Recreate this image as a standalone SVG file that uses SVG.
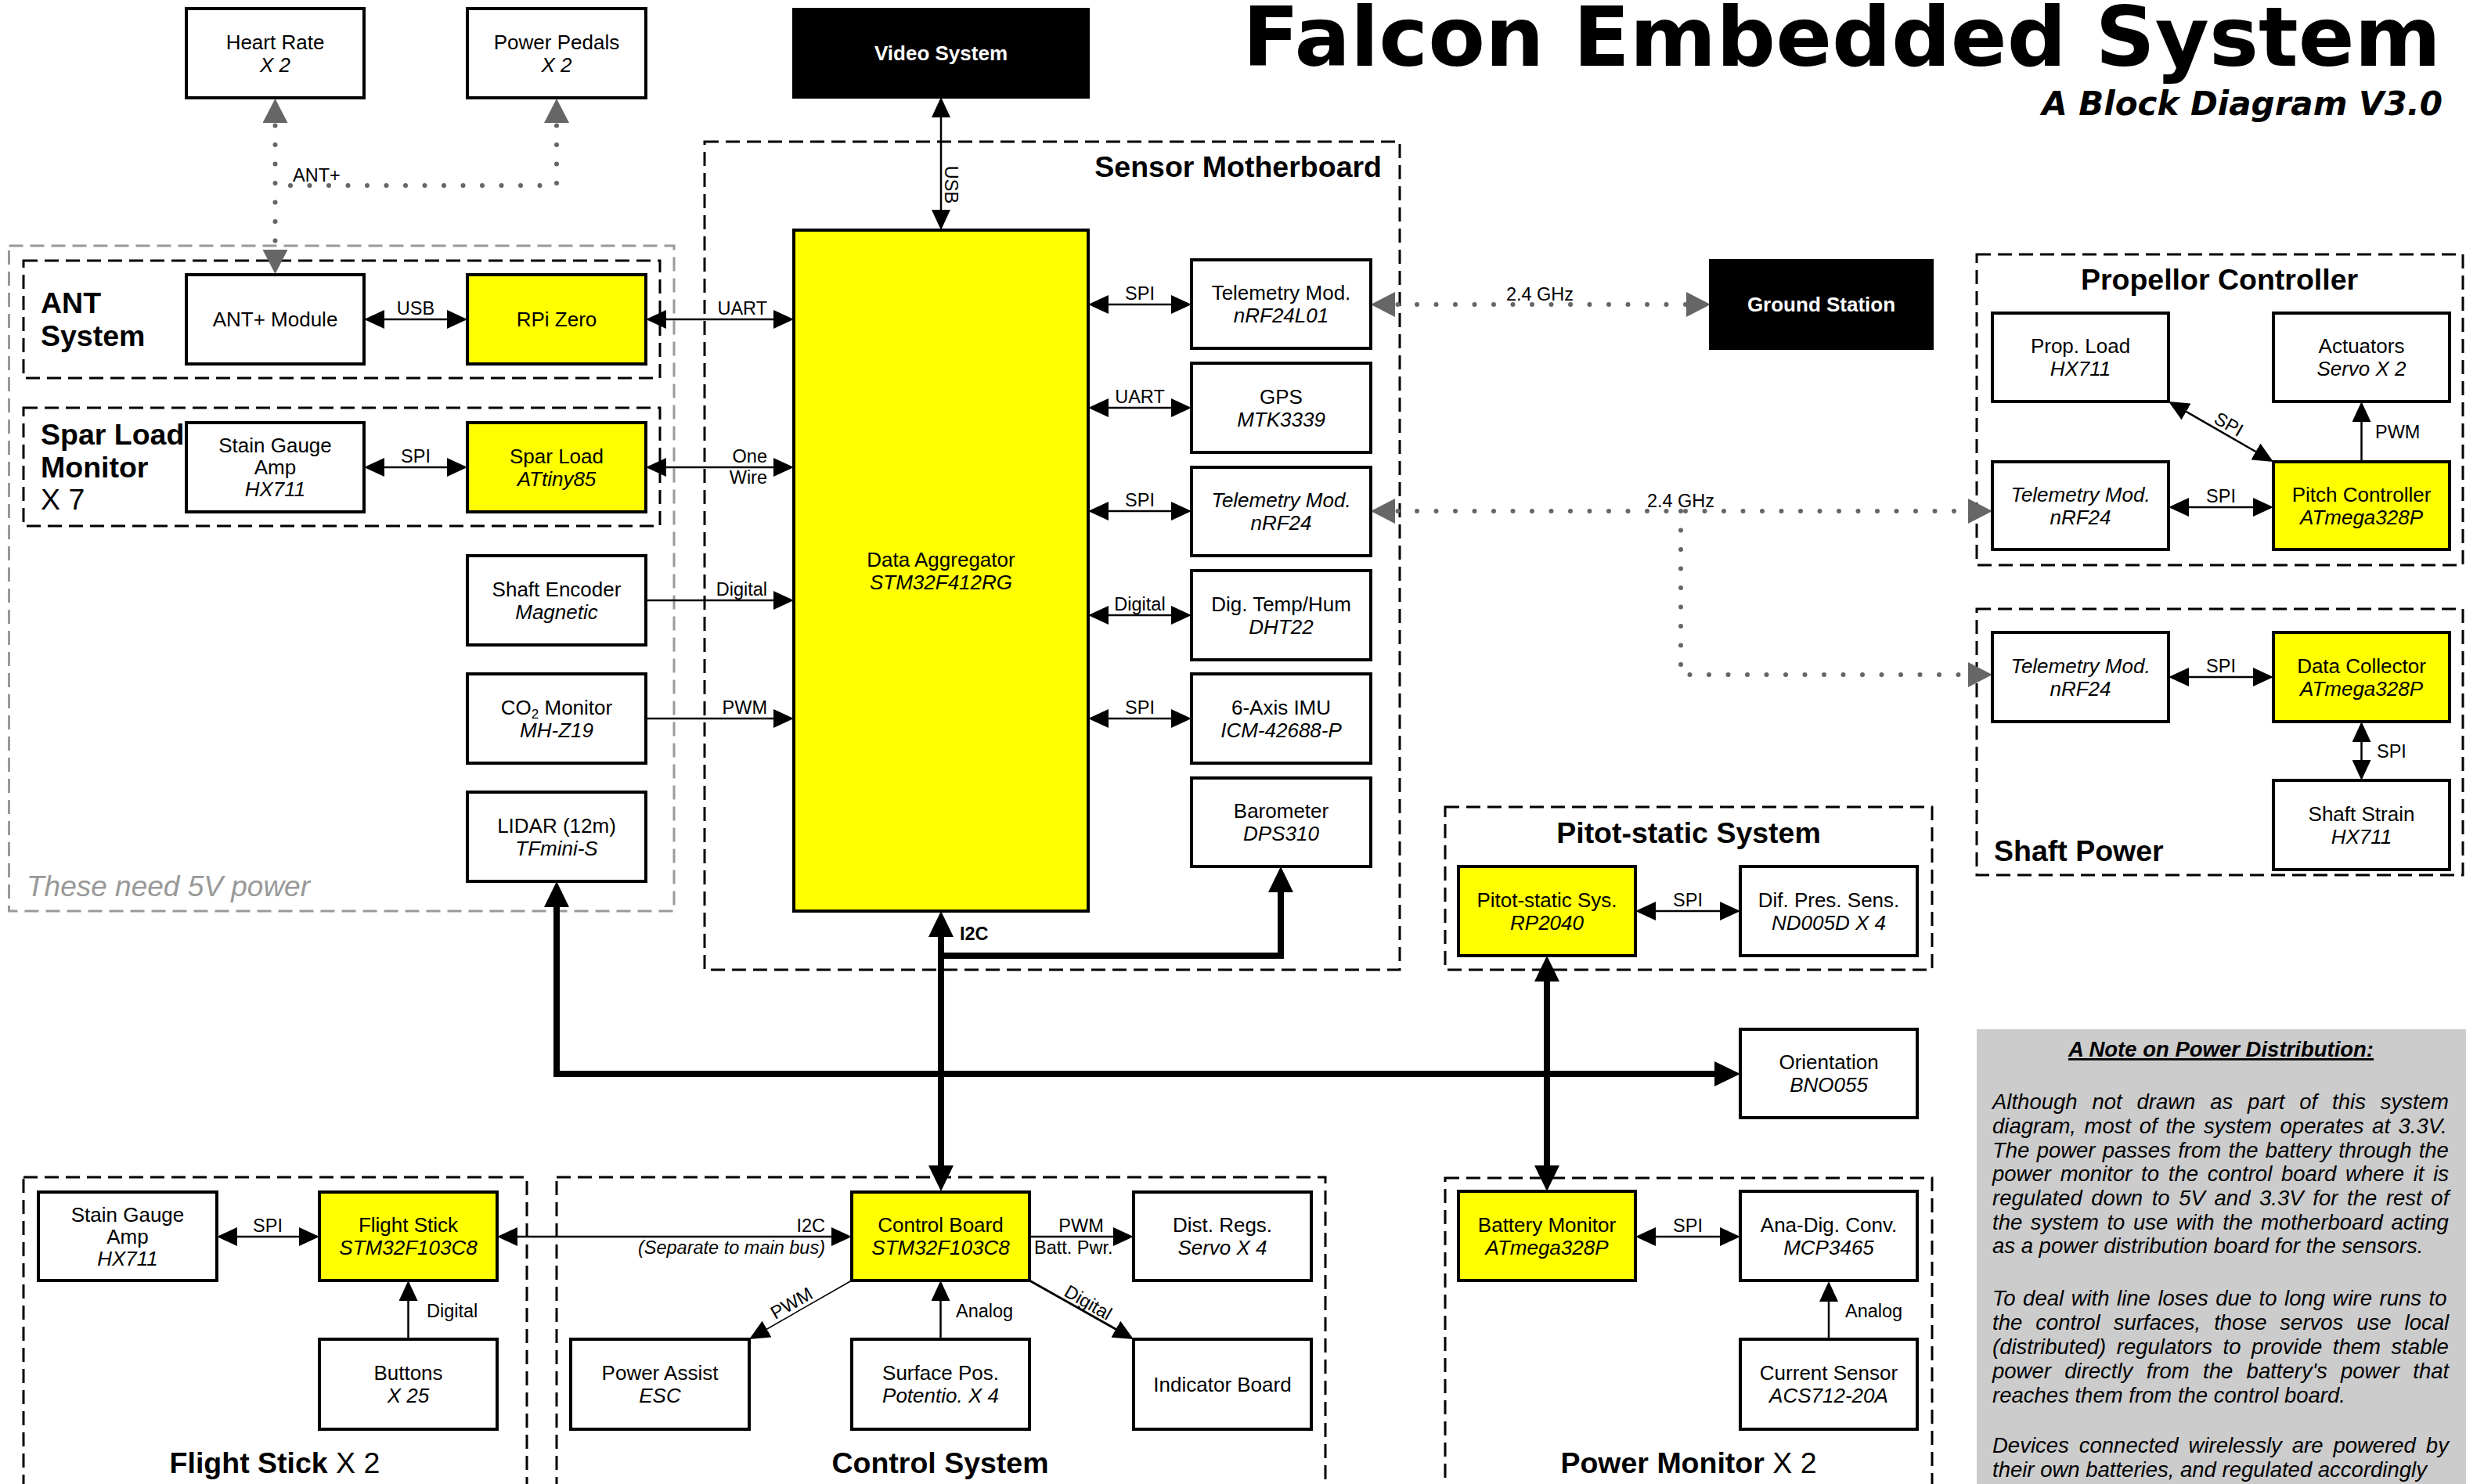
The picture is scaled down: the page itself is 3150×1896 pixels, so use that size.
<svg xmlns="http://www.w3.org/2000/svg" width="3150" height="1896" viewBox="0 0 3150 1896">
<style>
text{font-family:"Liberation Sans",Arial,sans-serif;fill:#000}
.t{font-size:26px;text-anchor:middle}
.i{font-style:italic}
.wb{fill:#fff;font-weight:bold}
.l{font-size:23.5px}
.m{text-anchor:middle}
.e{text-anchor:end}
.h{font-size:37.5px;font-weight:bold}
.hr{font-weight:normal}
.b{fill:#fff;stroke:#000;stroke-width:4}
.y{fill:#ff0;stroke:#000;stroke-width:4}
.k{fill:#000;stroke:#000;stroke-width:4}
.grp{fill:none;stroke:#000;stroke-width:3;stroke-dasharray:18 9}
.g5{fill:none;stroke:#999;stroke-width:3;stroke-dasharray:18 9}
.c{fill:none;stroke:#000;stroke-width:2.5}
.th{fill:none;stroke:#000;stroke-width:8}
.dot{fill:none;stroke:#666;stroke-width:6;stroke-dasharray:0 24.5;stroke-linecap:round}
.n{font-size:27.5px;font-style:italic}
</style>
<defs>
<marker id="ah" viewBox="0 0 26 24" markerWidth="26" markerHeight="24" refX="22" refY="12" orient="auto-start-reverse" markerUnits="userSpaceOnUse"><path d="M0,0L26,12L0,24Z" fill="#000"/></marker>
<marker id="at" viewBox="0 0 33 32" markerWidth="33" markerHeight="32" refX="23" refY="16" orient="auto-start-reverse" markerUnits="userSpaceOnUse"><path d="M0,0L33,16L0,32Z" fill="#000"/></marker>
<marker id="ag" viewBox="0 0 31 32" markerWidth="31" markerHeight="32" refX="21" refY="16" orient="auto-start-reverse" markerUnits="userSpaceOnUse"><path d="M0,0L31,16L0,32Z" fill="#666"/></marker>
</defs>
<rect width="3150" height="1896" fill="#fff"/>

<g id="title">
<text x="3118" y="84" class="e" style="font-family:'DejaVu Sans',sans-serif;font-weight:bold;font-size:106px">Falcon Embedded System</text>
<text x="3120" y="147" class="e" style="font-family:'DejaVu Sans',sans-serif;font-weight:bold;font-style:italic;font-size:42px">A Block Diagram V3.0</text>
</g>

<g id="note">
<rect x="2525" y="1315" width="625" height="590" fill="#ccc"/>
<text x="2837" y="1350" class="m" style="font-size:27.5px;font-weight:bold;font-style:italic;text-decoration:underline">A Note on Power Distribution:</text>
<text x="2545" y="1417" class="n" word-spacing="11.2">Although not drawn as part of this system</text>
<text x="2545" y="1448" class="n" word-spacing="2.9">diagram, most of the system operates at 3.3V.</text>
<text x="2545" y="1478.5" class="n" word-spacing="1.6">The power passes from the battery through the</text>
<text x="2545" y="1509" class="n" word-spacing="4.1">power monitor to the control board where it is</text>
<text x="2545" y="1540" class="n" word-spacing="4">regulated down to 5V and 3.3V for the rest of</text>
<text x="2545" y="1570.5" class="n" word-spacing="2.9">the system to use with the motherboard acting</text>
<text x="2545" y="1601" class="n">as a power distribution board for the sensors.</text>
<text x="2545" y="1668" class="n" word-spacing="1.9">To deal with line loses due to long wire runs to</text>
<text x="2545" y="1699" class="n" word-spacing="9.3">the control surfaces, those servos use local</text>
<text x="2545" y="1730" class="n" word-spacing="5.9">(distributed) regulators to provide them stable</text>
<text x="2545" y="1761" class="n" word-spacing="9.7">power directly from the battery's power that</text>
<text x="2545" y="1792" class="n">reaches them from the control board.</text>
<text x="2545" y="1856" class="n" word-spacing="5.3">Devices connected wirelessly are powered by</text>
<text x="2545" y="1887" class="n">their own batteries, and regulated accordingly</text>
</g>

<g id="groups">
<g id="grp-5v"><rect x="11.5" y="314" width="849.5" height="850" class="g5"/>
<text x="34" y="1145" class="i" style="font-size:37px;fill:#999">These need 5V power</text></g>
<g id="grp-ant"><rect x="30" y="333" width="813" height="150" class="grp"/>
<text x="52" y="400" class="h">ANT</text><text x="52" y="442" class="h">System</text></g>
<g id="grp-spar"><rect x="30" y="521" width="813" height="151" class="grp"/>
<text x="52" y="568" class="h">Spar Load</text><text x="52" y="610" class="h">Monitor</text><text x="52" y="651" class="h hr">X 7</text></g>
<g id="grp-sensor"><rect x="900" y="181" width="888" height="1058" class="grp"/>
<text x="1765" y="226" class="h e">Sensor Motherboard</text></g>
<g id="grp-prop"><rect x="2525" y="325" width="621" height="397" class="grp"/>
<text x="2835" y="370" class="h m">Propellor Controller</text></g>
<g id="grp-shaft"><rect x="2525" y="778" width="621" height="340" class="grp"/>
<text x="2547" y="1100" class="h">Shaft Power</text></g>
<g id="grp-pitot"><rect x="1846" y="1031" width="622" height="208" class="grp"/>
<text x="2157" y="1077" class="h m">Pitot-static System</text></g>
<g id="grp-flight"><rect x="30" y="1504" width="643" height="420" class="grp"/>
<text x="351" y="1882" class="h m">Flight Stick<tspan class="hr"> X 2</tspan></text></g>
<g id="grp-control"><rect x="711" y="1504" width="982" height="420" class="grp"/>
<text x="1201" y="1882" class="h m">Control System</text></g>
<g id="grp-power"><rect x="1846" y="1505" width="622" height="420" class="grp"/>
<text x="2157" y="1882" class="h m">Power Monitor<tspan class="hr"> X 2</tspan></text></g>
</g>

<g id="connectors">
<path d="M469,408H593" class="c" marker-start="url(#ah)" marker-end="url(#ah)"/>
<path d="M469,597H593" class="c" marker-start="url(#ah)" marker-end="url(#ah)"/>
<path d="M829,408H1010" class="c" marker-start="url(#ah)" marker-end="url(#ah)"/>
<path d="M829,597H1010" class="c" marker-start="url(#ah)" marker-end="url(#ah)"/>
<path d="M825,767H1010" class="c" marker-end="url(#ah)"/>
<path d="M825,918H1010" class="c" marker-end="url(#ah)"/>
<path d="M1394,389H1518" class="c" marker-start="url(#ah)" marker-end="url(#ah)"/>
<path d="M1394,521H1518" class="c" marker-start="url(#ah)" marker-end="url(#ah)"/>
<path d="M1394,653H1518" class="c" marker-start="url(#ah)" marker-end="url(#ah)"/>
<path d="M1394,786H1518" class="c" marker-start="url(#ah)" marker-end="url(#ah)"/>
<path d="M1394,918H1518" class="c" marker-start="url(#ah)" marker-end="url(#ah)"/>
<path d="M1202,128V290" class="c" marker-start="url(#ah)" marker-end="url(#ah)"/>
<path d="M2774,648H2900" class="c" marker-start="url(#ah)" marker-end="url(#ah)"/>
<path d="M2773.5,515L2900.5,588" class="c" marker-start="url(#ah)" marker-end="url(#ah)"/>
<path d="M3016.5,590V517" class="c" marker-end="url(#ah)"/>
<path d="M2774,865H2900" class="c" marker-start="url(#ah)" marker-end="url(#ah)"/>
<path d="M3016.5,926V993" class="c" marker-start="url(#ah)" marker-end="url(#ah)"/>
<path d="M2093,1164H2219" class="c" marker-start="url(#ah)" marker-end="url(#ah)"/>
<path d="M2093,1580H2219" class="c" marker-start="url(#ah)" marker-end="url(#ah)"/>
<path d="M2336,1711V1641" class="c" marker-end="url(#ah)"/>
<path d="M281,1580H404" class="c" marker-start="url(#ah)" marker-end="url(#ah)"/>
<path d="M521.5,1711V1640" class="c" marker-end="url(#ah)"/>
<path d="M639,1580H1084" class="c" marker-start="url(#ah)" marker-end="url(#ah)"/>
<path d="M1315,1580H1444" class="c" marker-end="url(#ah)"/>
<path d="M1201.5,1711V1640" class="c" marker-end="url(#ah)"/>
<path d="M1088,1636L960.5,1709" class="c" style="stroke-width:1.5" marker-end="url(#ah)"/>
<path d="M1315,1636L1444.5,1709" class="c" style="stroke-width:3" marker-end="url(#ah)"/>
<path d="M1202,1174V1512" class="th" marker-start="url(#at)" marker-end="url(#at)"/>
<path d="M1202,1221H1636V1117" class="th" marker-end="url(#at)"/>
<path d="M711,1136V1372H2213" class="th" marker-start="url(#at)" marker-end="url(#at)"/>
<path d="M1976,1231V1512" class="th" marker-start="url(#at)" marker-end="url(#at)"/>
<path d="M351.5,136V340" class="dot" marker-start="url(#ag)" marker-end="url(#ag)"/>
<path d="M711,136V237H351.5" class="dot" marker-start="url(#ag)"/>
<path d="M1761,389H2175" class="dot" marker-start="url(#ag)" marker-end="url(#ag)"/>
<path d="M1761,653H2535" class="dot" marker-start="url(#ag)" marker-end="url(#ag)"/>
<path d="M2147,653V862H2535" class="dot" marker-end="url(#ag)"/>
</g>

<g id="connector-labels" class="l">
<text x="374" y="232" class="l">ANT+</text>
<text x="531" y="402" class="l m">USB</text>
<text x="531" y="591" class="l m">SPI</text>
<text x="980" y="402" class="l e">UART</text>
<text x="980" y="591" class="l e">One</text>
<text x="980" y="618" class="l e">Wire</text>
<text x="980" y="761" class="l e">Digital</text>
<text x="980" y="912" class="l e">PWM</text>
<text x="1456" y="383" class="l m">SPI</text>
<text x="1456" y="515" class="l m">UART</text>
<text x="1456" y="647" class="l m">SPI</text>
<text x="1456" y="780" class="l m">Digital</text>
<text x="1456" y="912" class="l m">SPI</text>
<text x="1207" y="236" class="l m" transform="rotate(90 1207 236)">USB</text>
<text x="1226" y="1201" class="l" style="font-weight:bold">I2C</text>
<text x="1967" y="384" class="l m">2.4 GHz</text>
<text x="2147" y="648" class="l m">2.4 GHz</text>
<text x="2843" y="549" class="l m" transform="rotate(30 2843 549)">SPI</text>
<text x="3034" y="560" class="l">PWM</text>
<text x="2837" y="642" class="l m">SPI</text>
<text x="2837" y="859" class="l m">SPI</text>
<text x="3036" y="968" class="l">SPI</text>
<text x="2156" y="1158" class="l m">SPI</text>
<text x="2156" y="1574" class="l m">SPI</text>
<text x="2357" y="1683" class="l">Analog</text>
<text x="342" y="1574" class="l m">SPI</text>
<text x="545" y="1683" class="l">Digital</text>
<text x="1054" y="1574" class="l e">I2C</text>
<text x="1054" y="1602" class="l e i">(Separate to main bus)</text>
<text x="1381" y="1574" class="l m">PWM</text>
<text x="1321" y="1602" class="l">Batt. Pwr.</text>
<text x="1015" y="1672" class="l m" transform="rotate(-30 1015 1672)">PWM</text>
<text x="1221" y="1683" class="l">Analog</text>
<text x="1386" y="1671" class="l m" transform="rotate(30 1386 1671)">Digital</text>
</g>

<g id="n-heart"><rect x="238" y="11" width="227" height="114" class="b"/><text x="351.5" y="62.5" class="t">Heart Rate</text><text x="351.5" y="91.5" class="t i">X 2</text></g>
<g id="n-pedals"><rect x="597" y="11" width="228" height="114" class="b"/><text x="711" y="62.5" class="t">Power Pedals</text><text x="711" y="91.5" class="t i">X 2</text></g>
<g id="n-video"><rect x="1014" y="12" width="376" height="112" class="k"/><text x="1202" y="77" class="t wb">Video System</text></g>
<g id="n-antmod"><rect x="238" y="351" width="227" height="114" class="b"/><text x="351.5" y="417" class="t">ANT+ Module</text></g>
<g id="n-rpi"><rect x="597" y="351" width="228" height="114" class="y"/><text x="711" y="417" class="t">RPi Zero</text></g>
<g id="n-sgamp"><rect x="238" y="540" width="227" height="114" class="b"/><text x="351.5" y="578" class="t">Stain Gauge</text><text x="351.5" y="606" class="t">Amp</text><text x="351.5" y="634" class="t i">HX711</text></g>
<g id="n-sparload"><rect x="597" y="540" width="228" height="114" class="y"/><text x="711" y="591.5" class="t">Spar Load</text><text x="711" y="620.5" class="t i">ATtiny85</text></g>
<g id="n-encoder"><rect x="597" y="710" width="228" height="114" class="b"/><text x="711" y="761.5" class="t">Shaft Encoder</text><text x="711" y="790.5" class="t i">Magnetic</text></g>
<g id="n-co2"><rect x="597" y="861" width="228" height="114" class="b"/><text x="711" y="912.5" class="t">CO<tspan font-size="17" dy="5">2</tspan><tspan dy="-5"> Monitor</tspan></text><text x="711" y="941.5" class="t i">MH-Z19</text></g>
<g id="n-lidar"><rect x="597" y="1012" width="228" height="114" class="b"/><text x="711" y="1063.5" class="t">LIDAR (12m)</text><text x="711" y="1092.5" class="t i">TFmini-S</text></g>
<g id="n-aggregator"><rect x="1014" y="294" width="376" height="870" class="y"/><text x="1202" y="723.5" class="t">Data Aggregator</text><text x="1202" y="752.5" class="t i">STM32F412RG</text></g>
<g id="n-tel1"><rect x="1522" y="332" width="229" height="113" class="b"/><text x="1636.5" y="383" class="t">Telemetry Mod.</text><text x="1636.5" y="412" class="t i">nRF24L01</text></g>
<g id="n-gps"><rect x="1522" y="464" width="229" height="114" class="b"/><text x="1636.5" y="515.5" class="t">GPS</text><text x="1636.5" y="544.5" class="t i">MTK3339</text></g>
<g id="n-tel2"><rect x="1522" y="597" width="229" height="113" class="b"/><text x="1636.5" y="648" class="t i">Telemetry Mod.</text><text x="1636.5" y="677" class="t i">nRF24</text></g>
<g id="n-dht"><rect x="1522" y="729" width="229" height="114" class="b"/><text x="1636.5" y="780.5" class="t">Dig. Temp/Hum</text><text x="1636.5" y="809.5" class="t i">DHT22</text></g>
<g id="n-imu"><rect x="1522" y="861" width="229" height="114" class="b"/><text x="1636.5" y="912.5" class="t">6-Axis IMU</text><text x="1636.5" y="941.5" class="t i">ICM-42688-P</text></g>
<g id="n-baro"><rect x="1522" y="994" width="229" height="113" class="b"/><text x="1636.5" y="1045" class="t">Barometer</text><text x="1636.5" y="1074" class="t i">DPS310</text></g>
<g id="n-ground"><rect x="2185" y="333" width="283" height="112" class="k"/><text x="2326.5" y="398" class="t wb">Ground Station</text></g>
<g id="n-propload"><rect x="2545" y="400" width="225" height="113" class="b"/><text x="2657.5" y="451" class="t">Prop. Load</text><text x="2657.5" y="480" class="t i">HX711</text></g>
<g id="n-actuators"><rect x="2904" y="400" width="225" height="113" class="b"/><text x="3016.5" y="451" class="t">Actuators</text><text x="3016.5" y="480" class="t i">Servo X 2</text></g>
<g id="n-tel3"><rect x="2545" y="590" width="225" height="112" class="b"/><text x="2657.5" y="640.5" class="t i">Telemetry Mod.</text><text x="2657.5" y="669.5" class="t i">nRF24</text></g>
<g id="n-pitch"><rect x="2904" y="590" width="225" height="112" class="y"/><text x="3016.5" y="640.5" class="t">Pitch Controller</text><text x="3016.5" y="669.5" class="t i">ATmega328P</text></g>
<g id="n-tel4"><rect x="2545" y="808" width="225" height="114" class="b"/><text x="2657.5" y="859.5" class="t i">Telemetry Mod.</text><text x="2657.5" y="888.5" class="t i">nRF24</text></g>
<g id="n-collector"><rect x="2904" y="808" width="225" height="114" class="y"/><text x="3016.5" y="859.5" class="t">Data Collector</text><text x="3016.5" y="888.5" class="t i">ATmega328P</text></g>
<g id="n-strain"><rect x="2904" y="997" width="225" height="114" class="b"/><text x="3016.5" y="1048.5" class="t">Shaft Strain</text><text x="3016.5" y="1077.5" class="t i">HX711</text></g>
<g id="n-pitot"><rect x="1863" y="1107" width="226" height="114" class="y"/><text x="1976" y="1158.5" class="t">Pitot-static Sys.</text><text x="1976" y="1187.5" class="t i">RP2040</text></g>
<g id="n-difpres"><rect x="2223" y="1107" width="226" height="114" class="b"/><text x="2336" y="1158.5" class="t">Dif. Pres. Sens.</text><text x="2336" y="1187.5" class="t i">ND005D X 4</text></g>
<g id="n-orient"><rect x="2223" y="1315" width="226" height="113" class="b"/><text x="2336" y="1366" class="t">Orientation</text><text x="2336" y="1395" class="t i">BNO055</text></g>
<g id="n-battery"><rect x="1863" y="1522" width="226" height="114" class="y"/><text x="1976" y="1573.5" class="t">Battery Monitor</text><text x="1976" y="1602.5" class="t i">ATmega328P</text></g>
<g id="n-adc"><rect x="2223" y="1522" width="226" height="114" class="b"/><text x="2336" y="1573.5" class="t">Ana-Dig. Conv.</text><text x="2336" y="1602.5" class="t i">MCP3465</text></g>
<g id="n-current"><rect x="2223" y="1711" width="226" height="115" class="b"/><text x="2336" y="1763" class="t">Current Sensor</text><text x="2336" y="1792" class="t i">ACS712-20A</text></g>
<g id="n-fsamp"><rect x="49" y="1523" width="228" height="113" class="b"/><text x="163" y="1560.5" class="t">Stain Gauge</text><text x="163" y="1588.5" class="t">Amp</text><text x="163" y="1616.5" class="t i">HX711</text></g>
<g id="n-flightstick"><rect x="408" y="1523" width="227" height="113" class="y"/><text x="521.5" y="1574" class="t">Flight Stick</text><text x="521.5" y="1603" class="t i">STM32F103C8</text></g>
<g id="n-buttons"><rect x="408" y="1711" width="227" height="115" class="b"/><text x="521.5" y="1763" class="t">Buttons</text><text x="521.5" y="1792" class="t i">X 25</text></g>
<g id="n-control"><rect x="1088" y="1523" width="227" height="113" class="y"/><text x="1201.5" y="1574" class="t">Control Board</text><text x="1201.5" y="1603" class="t i">STM32F103C8</text></g>
<g id="n-distregs"><rect x="1448" y="1523" width="227" height="113" class="b"/><text x="1561.5" y="1574" class="t">Dist. Regs.</text><text x="1561.5" y="1603" class="t i">Servo X 4</text></g>
<g id="n-esc"><rect x="729" y="1711" width="228" height="115" class="b"/><text x="843" y="1763" class="t">Power Assist</text><text x="843" y="1792" class="t i">ESC</text></g>
<g id="n-surface"><rect x="1088" y="1711" width="227" height="115" class="b"/><text x="1201.5" y="1763" class="t">Surface Pos.</text><text x="1201.5" y="1792" class="t i">Potentio. X 4</text></g>
<g id="n-indicator"><rect x="1448" y="1711" width="227" height="115" class="b"/><text x="1561.5" y="1777.5" class="t">Indicator Board</text></g>
</svg>
